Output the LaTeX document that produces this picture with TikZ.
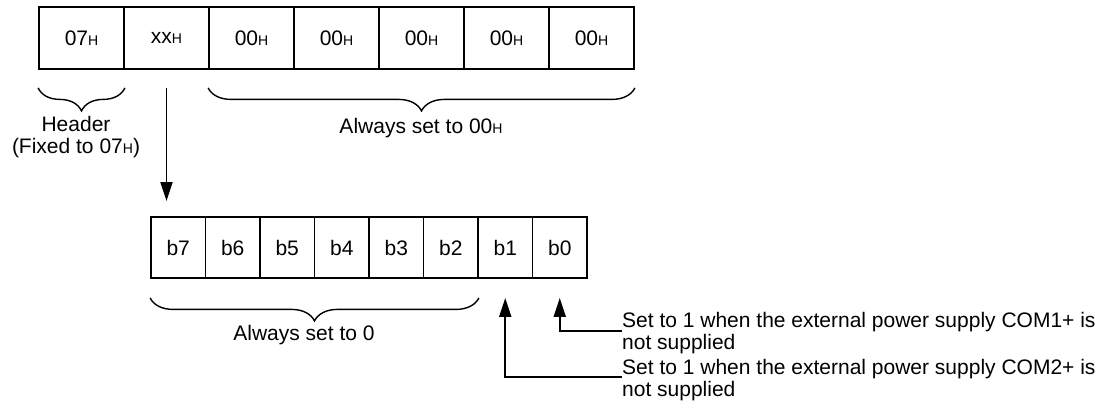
\documentclass[tikz,border=0pt]{standalone}
\usepackage{fontspec}
\setmainfont{Liberation Sans}
\usepackage{tikz}
\usetikzlibrary{positioning, calc, arrows.meta, decorations.pathreplacing}

\newcommand{\hsub}{{\fontsize{14}{14}\selectfont H}}

\begin{document}
\begin{tikzpicture}[x=1pt, y=-1pt,
    txt/.style={font=\fontsize{21}{22}\selectfont, inner sep=0pt},
    bytebox/.style={txt, draw, line width=1.8pt, minimum width=85pt, minimum height=62pt},
    bitbox/.style={txt, draw, line width=1.8pt, minimum width=54.5pt, minimum height=61pt},
    brc/.style={decorate, decoration={brace, mirror, amplitude=23pt}, line width=1.4pt},
    arr/.style={-{Triangle[length=19pt, width=12pt]}, line width=1.8pt}]
  \useasboundingbox (0,0) rectangle (1109,407);
  % frame bytes
  \foreach \i/\v in {0/07,1/xx,2/00,3/00,4/00,5/00,6/00}{
    \node[bytebox] (top\i) at ({81.5+85*\i}, 38) {\v\hsub};
  }
  % bits of the second byte
  \foreach \i in {7,...,0}{
    \node[bitbox] (bit\i) at ({151+54.5*(7.5-\i)}, 247.5) {b\i};
  }
  \draw[brc] ([yshift=-18pt]top0.south west) -- ([yshift=-18pt]top0.south east);
  \draw[brc] ([yshift=-18pt]top2.south west) -- ([yshift=-18pt]top6.south east);
  \draw[brc] ([yshift=-19pt]bit7.south west) -- ([yshift=-19pt]bit2.south east);
  \node[txt, align=center, anchor=north] (hdr) at (76,116) {Header\\(Fixed to 07\hsub)};
  \node[txt, anchor=base] (all00) at (421,133) {Always set to 00\hsub};
  \node[txt, anchor=base] (all0) at (304,340) {Always set to 0};
  \draw[arr] ([yshift=-18pt]top1.south) -- ($(top1.south |- bit7.north)+(0pt,15pt)$);
  % notes on b0 and b1
  \node[txt, align=left, anchor=north west] (note1) at (622,312) {Set to 1 when the external power supply COM1+ is\\not supplied};
  \node[txt, align=left, anchor=north west] (note2) at (622,359) {Set to 1 when the external power supply COM2+ is\\not supplied};
  \coordinate (c1) at (622,331);
  \coordinate (c2) at (622,377);
  \draw[arr] (c1) -| ([yshift=-19pt]bit0.south);
  \draw[arr] (c2) -| ([yshift=-19pt]bit1.south);
\end{tikzpicture}
\end{document}
